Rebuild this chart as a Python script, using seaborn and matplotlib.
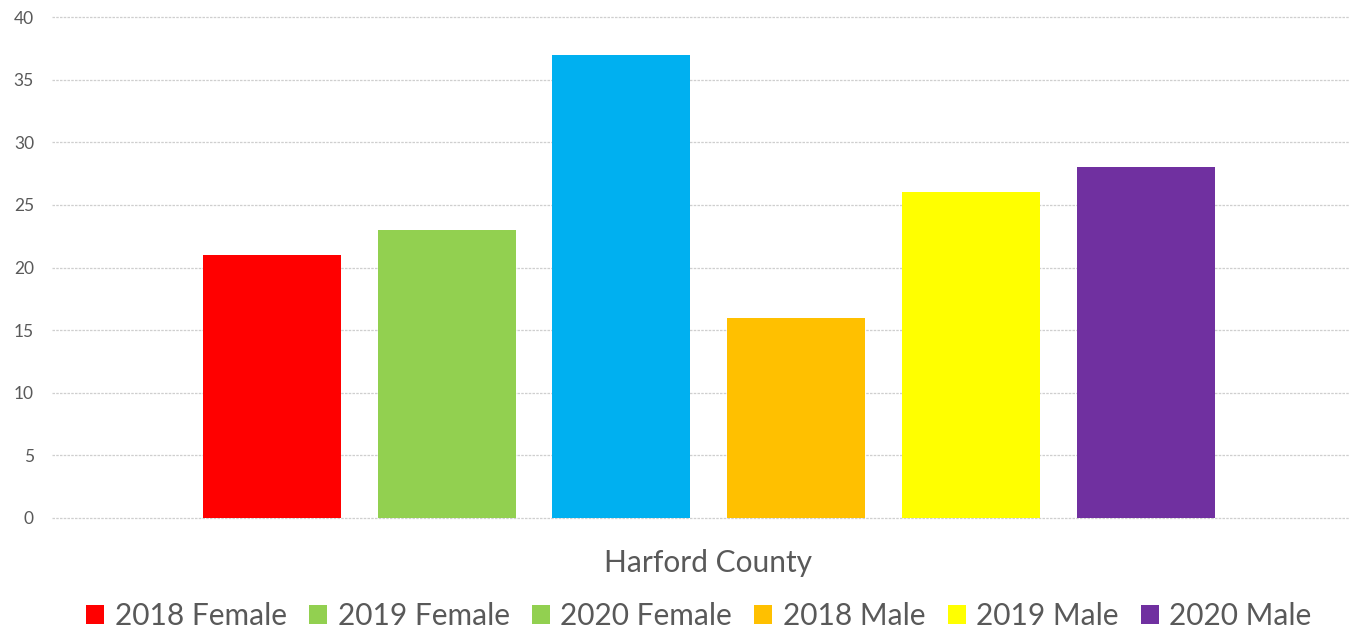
import matplotlib
matplotlib.use("Agg")
import matplotlib.pyplot as plt
from matplotlib.patches import Patch
import seaborn as sns
import pandas as pd

# Series shown for Harford County
series = ["2018 Female", "2019 Female", "2020 Female", "2018 Male", "2019 Male", "2020 Male"]
values = [21, 23, 37, 16, 26, 28]
bar_colors = ["#FF0000", "#92D050", "#00B0F0", "#FFC000", "#FFFF00", "#7030A0"]
legend_colors = ["#FF0000", "#92D050", "#92D050", "#FFC000", "#FFFF00", "#7030A0"]
category = "Harford County"
yticks = [0, 5, 10, 15, 20, 25, 30, 35, 40]

sns.set_theme(style="white")
plt.rcParams["font.family"] = ["Lato", "DejaVu Sans"]

df = pd.DataFrame({"series": series, "value": values})

fig = plt.figure(figsize=(13.5, 6.31), dpi=100)
ax = fig.add_axes([52 / 1350, 1 - 518 / 631, 1298 / 1350, (518 - 17) / 631])

sns.barplot(data=df, x="series", y="value", hue="series", palette=bar_colors,
            width=0.79, legend=False, ax=ax, saturation=1, linewidth=0)

ax.set_ylim(0, 40)
ax.set_xlim(-1.259, 6.17)
ax.set_yticks(yticks)
ax.set_yticklabels([str(t) for t in yticks], fontsize=12.5, color="#595959")
ax.tick_params(axis="y", length=0, pad=13)
ax.set_xticks([])
ax.set_xlabel("")
ax.set_ylabel("")
for s in ax.spines.values():
    s.set_visible(False)
ax.yaxis.grid(True, color="#CFCFCF", linestyle=(0, (2, 1)), linewidth=0.9)
for gl in ax.get_ygridlines():
    gl.set_clip_on(False)
ax.set_axisbelow(True)

fig.text(708 / 1350, 1 - 563 / 631, category, ha="center", va="center",
         fontsize=21.5, color="#595959")

handles = [Patch(facecolor=c, edgecolor="none") for c in legend_colors]
fig.legend(handles, series, loc="center", bbox_to_anchor=(699 / 1350, 1 - 616 / 631),
           ncol=6, frameon=False, fontsize=21.5, labelcolor="#595959",
           handlelength=0.6, handleheight=0.6, handletextpad=0.35, columnspacing=0.75)

fig.savefig("out.png", dpi=100)
